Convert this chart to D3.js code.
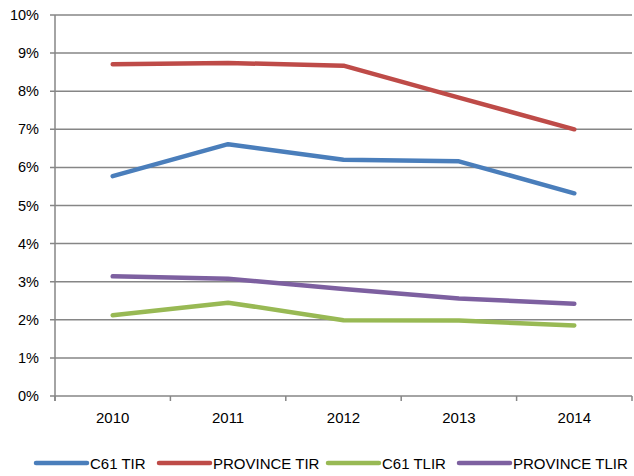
<!DOCTYPE html>
<html>
<head>
<meta charset="utf-8">
<script src="https://cdn.jsdelivr.net/npm/d3@7"></script>
<style>
  body { margin: 0; background: #fff; }
  svg { display: block; font-family: "Liberation Sans", Arial, sans-serif; }
</style>
</head>
<body>
<svg id="chart" width="634" height="476"></svg>
<script>
// data
const years = ['2010', '2011', '2012', '2013', '2014'];
const c61Tir = [5.77, 6.61, 6.20, 6.16, 5.32];
const provinceTir = [8.71, 8.74, 8.67, 7.83, 7.00];
const c61Tlir = [2.12, 2.45, 1.99, 1.98, 1.85];
const provinceTlir = [3.14, 3.08, 2.81, 2.56, 2.42];
const seriesNames = ['C61 TIR', 'PROVINCE TIR', 'C61 TLIR', 'PROVINCE TLIR'];
const yTicks = [0, 1, 2, 3, 4, 5, 6, 7, 8, 9, 10];

const colors = ['#4a7ebb', '#be4b48', '#98b954', '#7d60a0'];
const series = [c61Tir, provinceTir, c61Tlir, provinceTlir];

const svg = d3.select('#chart');
const plotLeft = 55, plotRight = 632, plotTop = 15, plotBottom = 396;

const x = d3.scaleBand().domain(years).range([plotLeft, plotRight]);
const y = d3.scaleLinear().domain([0, 10]).range([plotBottom, plotTop]);

// grid lines
svg.append('g')
  .selectAll('line')
  .data(yTicks)
  .enter()
  .append('line')
  .attr('x1', plotLeft - 5)
  .attr('x2', plotRight)
  .attr('y1', d => y(d))
  .attr('y2', d => y(d))
  .attr('stroke', '#868686')
  .attr('stroke-width', 1.5);

// y axis line
svg.append('line')
  .attr('x1', plotLeft).attr('x2', plotLeft)
  .attr('y1', plotTop).attr('y2', plotBottom + 5)
  .attr('stroke', '#868686')
  .attr('stroke-width', 1.5);

// x category ticks
const bounds = years.map(d => x(d)).concat([plotRight]);
svg.append('g')
  .selectAll('line')
  .data(bounds)
  .enter()
  .append('line')
  .attr('x1', d => d).attr('x2', d => d)
  .attr('y1', plotBottom).attr('y2', plotBottom + 5)
  .attr('stroke', '#868686')
  .attr('stroke-width', 1.5);

// y labels
svg.append('g')
  .selectAll('text')
  .data(yTicks)
  .enter()
  .append('text')
  .attr('x', 39)
  .attr('y', d => y(d) + 5)
  .attr('text-anchor', 'end')
  .attr('font-size', 14.5)
  .attr('fill', '#000')
  .text(d => d + '%');

// x labels
svg.append('g')
  .selectAll('text')
  .data(years)
  .enter()
  .append('text')
  .attr('x', d => x(d) + x.bandwidth() / 2)
  .attr('y', 423)
  .attr('text-anchor', 'middle')
  .attr('font-size', 15)
  .attr('fill', '#000')
  .text(d => d);

// lines
const line = d3.line()
  .x((d, i) => x(years[i]) + x.bandwidth() / 2)
  .y(d => y(d));

series.forEach((s, i) => {
  svg.append('path')
    .datum(s)
    .attr('d', line)
    .attr('fill', 'none')
    .attr('stroke', colors[i])
    .attr('stroke-width', 4.5)
    .attr('stroke-linecap', 'round')
    .attr('stroke-linejoin', 'round');
});

// legend
const legendX = [36, 159, 328, 459];
const lg = svg.append('g');
seriesNames.forEach((name, i) => {
  lg.append('line')
    .attr('x1', legendX[i]).attr('x2', legendX[i] + 51)
    .attr('y1', 463).attr('y2', 463)
    .attr('stroke', colors[i])
    .attr('stroke-width', 4.5)
    .attr('stroke-linecap', 'round');
  lg.append('text')
    .attr('x', legendX[i] + 54)
    .attr('y', 468.5)
    .attr('font-size', 15)
    .attr('fill', '#000')
    .text(name);
});
</script>
</body>
</html>
